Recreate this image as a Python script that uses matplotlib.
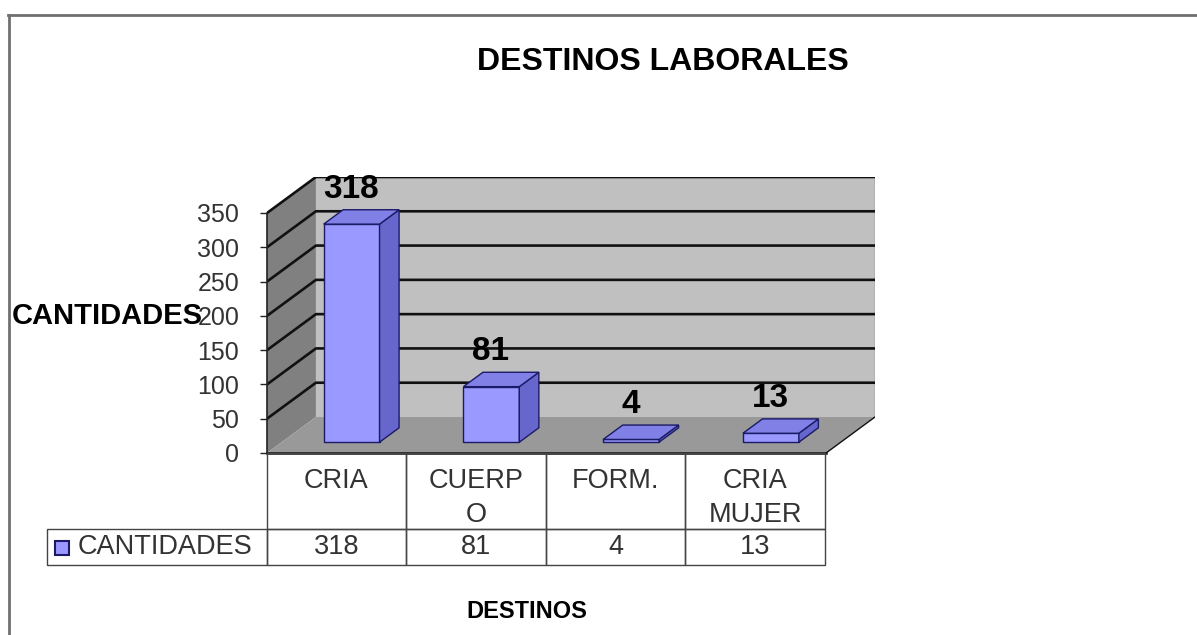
import matplotlib

matplotlib.use("Agg")
import matplotlib.pyplot as plt
from matplotlib.lines import Line2D
from matplotlib.patches import Polygon, Rectangle

plt.rcParams["font.family"] = ["Liberation Sans", "DejaVu Sans"]

# data
CATEGORIES = ["CRIA", "CUERP\nO", "FORM.", "CRIA\nMUJER"]
VALUES = [318, 81, 4, 13]
Y_TICKS = [0, 50, 100, 150, 200, 250, 300, 350]
SERIES_NAME = "CANTIDADES"
TITLE = "DESTINOS LABORALES"
X_TITLE = "DESTINOS"
Y_TITLE = "CANTIDADES"

# 3-D look (category units / value units)
Y_MAX = 350
DEPTH_X = 0.35
DEPTH_Y = 52.5
BAR_W = 0.4
BAR_D0, BAR_D1 = 0.3, 0.7

FRONT = "#9999FF"
SIDE = "#6666CC"
TOP = "#8080E6"
EDGE = "#1A1A66"

W, H = 1197, 635


def fx(px):
    return px / W


def fy(py):
    return 1 - py / H


fig = plt.figure(figsize=(W / 100, H / 100), dpi=100)
fig.patch.set_facecolor("white")

# chart frame
fig.add_artist(Line2D([fx(8), 1], [fy(15), fy(15)], transform=fig.transFigure, color="#707070", lw=2))
fig.add_artist(Line2D([fx(9), fx(9)], [0, fy(15)], transform=fig.transFigure, color="#707070", lw=2))

fig.text(fx(663), fy(62), TITLE, ha="center", va="center", fontsize=23, fontweight="bold")
fig.text(fx(12), fy(316), Y_TITLE, ha="left", va="center", fontsize=21, fontweight="bold")
fig.text(fx(527), fy(612), X_TITLE, ha="center", va="center", fontsize=17, fontweight="bold")

# plot area: front plane + depth
ax = fig.add_axes([fx(267), fy(453), fx(875) - fx(267), fy(177) - fy(453)])
n = len(CATEGORIES)
ax.set_xlim(-0.5, n - 0.5 + DEPTH_X)
ax.set_ylim(0, Y_MAX + DEPTH_Y)
for s in ("top", "right", "bottom"):
    ax.spines[s].set_visible(False)
ax.spines["left"].set_bounds(0, Y_MAX)
ax.spines["left"].set_color("#222222")
ax.spines["left"].set_linewidth(1.2)
ax.set_xticks([])
ax.set_yticks(Y_TICKS)
ax.tick_params(axis="y", length=5, width=1, color="#222222", pad=15, labelsize=18, labelcolor="#333333")
ax.patch.set_visible(False)

x_l, x_r = -0.5, n - 0.5
ax.add_patch(Polygon([(x_l + DEPTH_X, DEPTH_Y), (x_r + DEPTH_X, DEPTH_Y), (x_r + DEPTH_X, Y_MAX + DEPTH_Y),
                      (x_l + DEPTH_X, Y_MAX + DEPTH_Y)], closed=True, fc="#C0C0C0", ec="none", zorder=1))
ax.add_patch(Polygon([(x_l, 0), (x_l + DEPTH_X, DEPTH_Y), (x_l + DEPTH_X, Y_MAX + DEPTH_Y), (x_l, Y_MAX)],
                     closed=True, fc="#808080", ec="none", zorder=1))
ax.add_patch(Polygon([(x_l, 0), (x_r, 0), (x_r + DEPTH_X, DEPTH_Y), (x_l + DEPTH_X, DEPTH_Y)],
                     closed=True, fc="#999999", ec="none", zorder=1))
ax.plot([x_r + DEPTH_X, x_r + DEPTH_X], [DEPTH_Y, Y_MAX + DEPTH_Y], color="#777777", lw=1, zorder=2)
for t in Y_TICKS[1:]:
    ax.plot([x_l, x_l + DEPTH_X, x_r + DEPTH_X], [t, t + DEPTH_Y, t + DEPTH_Y], color="#111111", lw=1.9, zorder=2)
ax.plot([x_l, x_r], [0, 0], color="#111111", lw=1.8, zorder=2, clip_on=False)
ax.plot([x_r, x_r + DEPTH_X], [0, DEPTH_Y], color="#111111", lw=1, zorder=2)

ddx = (BAR_D1 - BAR_D0) * DEPTH_X
ddy = (BAR_D1 - BAR_D0) * DEPTH_Y
for i, v in enumerate(VALUES):
    x0 = i - BAR_W / 2 + BAR_D0 * DEPTH_X
    y0 = BAR_D0 * DEPTH_Y
    ax.add_patch(Rectangle((x0, y0), BAR_W, v, fc=FRONT, ec=EDGE, lw=1, zorder=3))
    ax.add_patch(Polygon([(x0 + BAR_W, y0), (x0 + BAR_W + ddx, y0 + ddy), (x0 + BAR_W + ddx, y0 + ddy + v),
                          (x0 + BAR_W, y0 + v)], closed=True, fc=SIDE, ec=EDGE, lw=1, zorder=3))
    ax.add_patch(Polygon([(x0, y0 + v), (x0 + BAR_W, y0 + v), (x0 + BAR_W + ddx, y0 + v + ddy),
                          (x0 + ddx, y0 + v + ddy)], closed=True, fc=TOP, ec=EDGE, lw=1, zorder=3))
    ax.text(i + 0.1, v + BAR_D1 * DEPTH_Y + 7, str(v), ha="center", va="bottom",
            fontsize=24, fontweight="bold", zorder=4)

# data table under the chart
LABEL_W = 1.574
HEADER_H, ROW_H = 76, 36
tax = fig.add_axes([fx(47), fy(565), fx(825) - fx(47), fy(453) - fy(565)])
tax.set_xlim(-0.5 - LABEL_W, n - 0.5)
tax.set_ylim(HEADER_H + ROW_H, 0)
tax.axis("off")
grid_kw = dict(fill=False, ec="#444444", lw=1, clip_on=False)
for i, (cat, v) in enumerate(zip(CATEGORIES, VALUES)):
    tax.add_patch(Rectangle((i - 0.5, 0), 1, HEADER_H, **grid_kw))
    tax.add_patch(Rectangle((i - 0.5, HEADER_H), 1, ROW_H, **grid_kw))
    tax.text(i, 15, cat, ha="center", va="top", fontsize=19.5, color="#333333", linespacing=1.4)
    tax.text(i, HEADER_H + ROW_H / 2, str(v), ha="center", va="center", fontsize=19.5, color="#333333")
tax.add_patch(Rectangle((-0.5 - LABEL_W, HEADER_H), LABEL_W, ROW_H, **grid_kw))
tax.add_patch(Rectangle((-0.5 - LABEL_W + 0.06, HEADER_H + 12), 0.1, 14, fc=FRONT, ec=EDGE, lw=1.5))
tax.text(-0.5 - LABEL_W + 0.22, HEADER_H + ROW_H / 2, SERIES_NAME, ha="left", va="center",
         fontsize=19.5, color="#333333")

fig.savefig("out.png", dpi=100)
